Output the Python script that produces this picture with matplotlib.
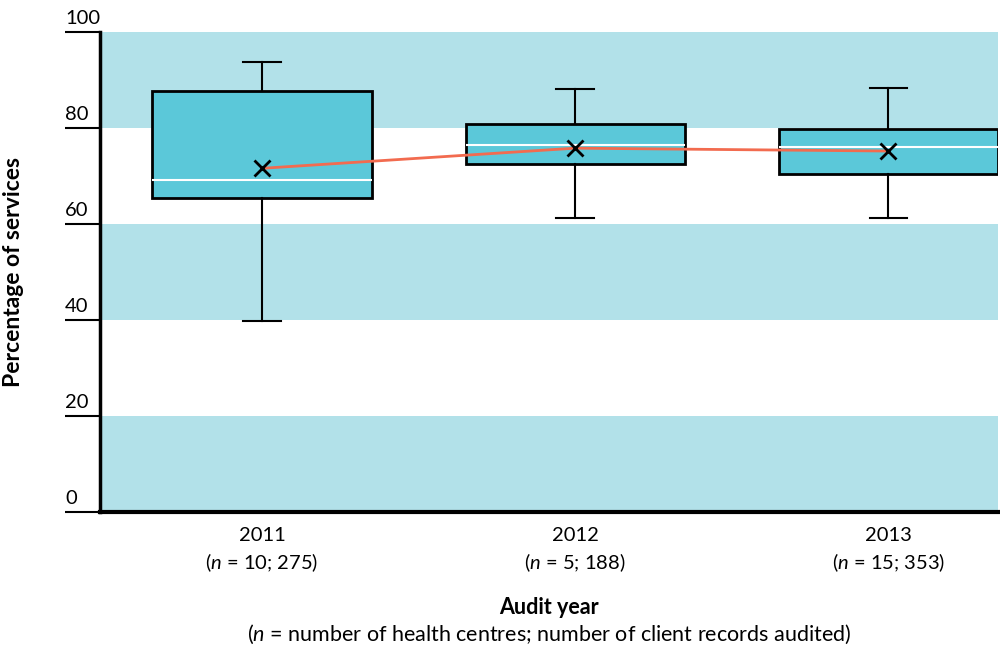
import matplotlib
matplotlib.use("Agg")
import matplotlib.pyplot as plt
from matplotlib.transforms import blended_transform_factory

plt.rcParams['font.family'] = ['Lato', 'DejaVu Sans']
plt.rcParams['mathtext.fontset'] = 'custom'
plt.rcParams['mathtext.it'] = 'Lato:italic'
plt.rcParams['mathtext.rm'] = 'Lato'

years = ["2011", "2012", "2013"]
n_labels = ["($n$ = 10; 275)", "($n$ = 5; 188)", "($n$ = 15; 353)"]
whisker_low = [39.8, 61.3, 61.25]
q1 = [65.5, 72.4, 70.5]
median = [69.2, 76.5, 76.0]
q3 = [87.7, 80.9, 79.7]
whisker_high = [93.7, 88.1, 88.4]
mean = [71.6, 75.8, 75.2]
yticks = [0, 20, 40, 60, 80, 100]
bands = [(0, 20), (40, 60), (80, 100)]

band_color = "#B2E1E9"
box_color = "#5BC8D9"
line_color = "#F26B4F"

fig = plt.figure(figsize=(10, 6.46), dpi=100)
ax = fig.add_axes([0.1, 1 - 512 / 646, 0.898, (512 - 32) / 646])

for lo, hi in bands:
    ax.axhspan(lo, hi, color=band_color, lw=0, zorder=0)

stats = []
for i, y in enumerate(years):
    stats.append(dict(label=y, whislo=whisker_low[i], q1=q1[i], med=median[i],
                      q3=q3[i], whishi=whisker_high[i], fliers=[]))
pos = list(range(len(years)))
ax.bxp(stats, positions=pos, widths=0.70, patch_artist=True, showfliers=False,
       boxprops=dict(facecolor=box_color, edgecolor="black", linewidth=2),
       medianprops=dict(color="white", linewidth=1.5),
       whiskerprops=dict(color="black", linewidth=1.5),
       capprops=dict(color="black", linewidth=1.5),
       capwidths=0.12, zorder=2)

ax.plot(pos, mean, color=line_color, lw=2, zorder=3)
ax.plot(pos, mean, linestyle="none", marker="x", color="black", ms=11, mew=2, zorder=4)

ax.set_xlim(-0.517, 2.35)
ax.set_ylim(0, 100)

for s in ["top", "right"]:
    ax.spines[s].set_visible(False)
ax.spines["left"].set_linewidth(2.5)
ax.spines["bottom"].set_linewidth(3)

ax.set_yticks(yticks)
ax.set_yticklabels([])
ax.tick_params(axis="y", length=25.2, width=1.5, direction="out")
ax.set_xticks(pos)
ax.set_xticklabels([])
ax.tick_params(axis="x", length=0)

trans = blended_transform_factory(ax.transAxes, ax.transData)
for t in yticks:
    ax.annotate(str(t), xy=(0, t), xycoords=trans, xytext=(-35, 5),
                textcoords="offset pixels", ha="left", va="bottom", fontsize=14.5)

for i, (y, n) in enumerate(zip(years, n_labels)):
    ax.annotate(y, xy=(i, 0), xycoords=("data", "data"), xytext=(0, -15),
                textcoords="offset pixels", ha="center", va="top", fontsize=14.5)
    ax.annotate(n, xy=(i, 0), xycoords=("data", "data"), xytext=(0, -39),
                textcoords="offset pixels", ha="center", va="top", fontsize=14.5)

ax.set_ylabel("Percentage of services", fontsize=16.5, fontweight="bold", labelpad=26)

fig.text(0.549, 1 - 607 / 646, "Audit year", ha="center", va="center",
         fontsize=15.5, fontweight="bold")
fig.text(0.549, 1 - 634 / 646,
         "($n$ = number of health centres; number of client records audited)",
         ha="center", va="center", fontsize=15.5)

fig.savefig("out.png", dpi=100)
